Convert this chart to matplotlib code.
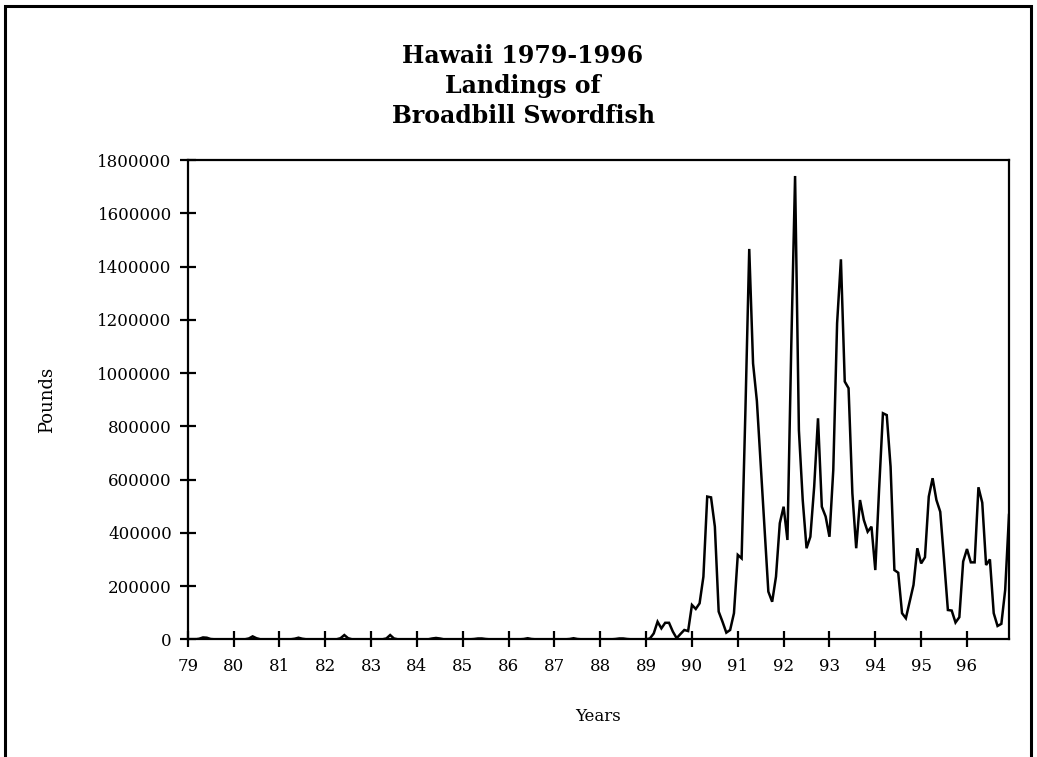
import matplotlib
matplotlib.use("Agg")
import matplotlib.pyplot as plt
from matplotlib.patches import Rectangle
import numpy as np

# ---- data (monthly landings, pounds) ----
year_labels = ["79", "80", "81", "82", "83", "84", "85", "86", "87",
               "88", "89", "90", "91", "92", "93", "94", "95", "96"]
first_year = 79

p1979 = [0, 0, 0, 2000, 7000, 6000, 1000, 0, 0, 0, 0, 0]
p1980 = [0, 0, 0, 0, 3000, 11000, 4000, 0, 0, 0, 0, 0]
p1981 = [0, 0, 0, 0, 2000, 6000, 2000, 0, 0, 0, 0, 0]
p1982 = [0, 0, 0, 0, 4000, 16000, 4000, 0, 0, 0, 0, 0]
p1983 = [0, 0, 0, 0, 3000, 16000, 3000, 0, 0, 0, 0, 0]
p1984 = [0, 0, 0, 0, 3000, 5000, 3000, 0, 0, 0, 0, 0]
p1985 = [0, 0, 0, 1000, 3000, 3000, 1000, 0, 0, 0, 0, 0]
p1986 = [0, 0, 0, 0, 1000, 4000, 1000, 0, 0, 0, 0, 0]
p1987 = [0, 0, 0, 0, 1000, 4000, 1000, 0, 0, 0, 0, 0]
p1988 = [0, 0, 0, 0, 1000, 3000, 3000, 1000, 0, 0, 0, 0]
p1989 = [0, 3000, 22000, 66000, 41000, 62000, 62000, 29000, 4000, 20000, 35000, 31000]
p1990 = [129000, 114000, 135000, 235000, 536000, 533000, 423000, 104000, 66000, 25000, 35000, 98000]
p1991 = [317000, 304000, 860000, 1466000, 1036000, 895000, 656000, 419000, 179000, 141000, 235000, 436000]
p1992 = [498000, 373000, 1100000, 1740000, 785000, 523000, 342000, 385000, 573000, 830000, 498000, 461000]
p1993 = [385000, 636000, 1187000, 1427000, 968000, 943000, 548000, 342000, 523000, 448000, 404000, 423000]
p1994 = [260000, 565000, 849000, 842000, 648000, 260000, 250000, 98000, 79000, 141000, 204000, 342000]
p1995 = [285000, 308000, 536000, 605000, 523000, 479000, 298000, 110000, 108000, 63000, 83000, 292000]
p1996 = [339000, 289000, 289000, 571000, 513000, 279000, 300000, 98000, 50000, 58000, 185000, 467000]

yearly = [p1979, p1980, p1981, p1982, p1983, p1984, p1985, p1986, p1987,
          p1988, p1989, p1990, p1991, p1992, p1993, p1994, p1995, p1996]
pounds = np.concatenate([np.array(v, dtype=float) for v in yearly])
x = first_year + np.arange(len(pounds)) / 12.0

y_ticks = [0, 200000, 400000, 600000, 800000, 1000000, 1200000, 1400000, 1600000, 1800000]

# ---- figure ----
W, H = 1037, 757
fig = plt.figure(figsize=(W / 100, H / 100), dpi=100)
fig.patch.set_facecolor("white")

serif = ["DejaVu Serif"]

ax = fig.add_axes([187.7 / W, 1 - 639.3 / H, (1009 - 187.7) / W, (639.3 - 160) / H])
ax.plot(x, pounds, color="black", lw=1.8, solid_joinstyle="miter")

ax.set_xlim(x[0], x[-1])
ax.set_ylim(0, 1800000)
ax.set_xticks([first_year + k for k in range(len(year_labels))])
ax.set_xticklabels(year_labels, family=serif, fontsize=12)
ax.set_yticks(y_ticks)
ax.set_yticklabels([str(v) for v in y_ticks], family=serif, fontsize=12)
ax.tick_params(direction="inout", length=11, width=1.6, color="black")
ax.tick_params(axis="x", pad=8)
ax.tick_params(axis="y", pad=6)
for s in ax.spines.values():
    s.set_linewidth(1.6)
    s.set_color("black")

ax.set_xlabel("Years", family=serif, fontsize=12, labelpad=24)
ax.set_ylabel("Pounds", family=serif, fontsize=13, labelpad=30)

title_lines = ["Hawaii 1979-1996", "Landings of", "Broadbill Swordfish"]
for k, line in enumerate(title_lines):
    fig.text(523 / W, 1 - (56 + 30 * k) / H, line, ha="center", va="center",
             family=serif, fontweight="bold", fontsize=17)

# outer chart frame (bottom edge runs off the canvas)
fig.patches.append(Rectangle((5 / W, -0.02), (1031 - 5) / W, 1.02 - 6 / H,
                             transform=fig.transFigure, fill=False,
                             edgecolor="black", linewidth=2.2))

fig.savefig("out.png", dpi=100)
